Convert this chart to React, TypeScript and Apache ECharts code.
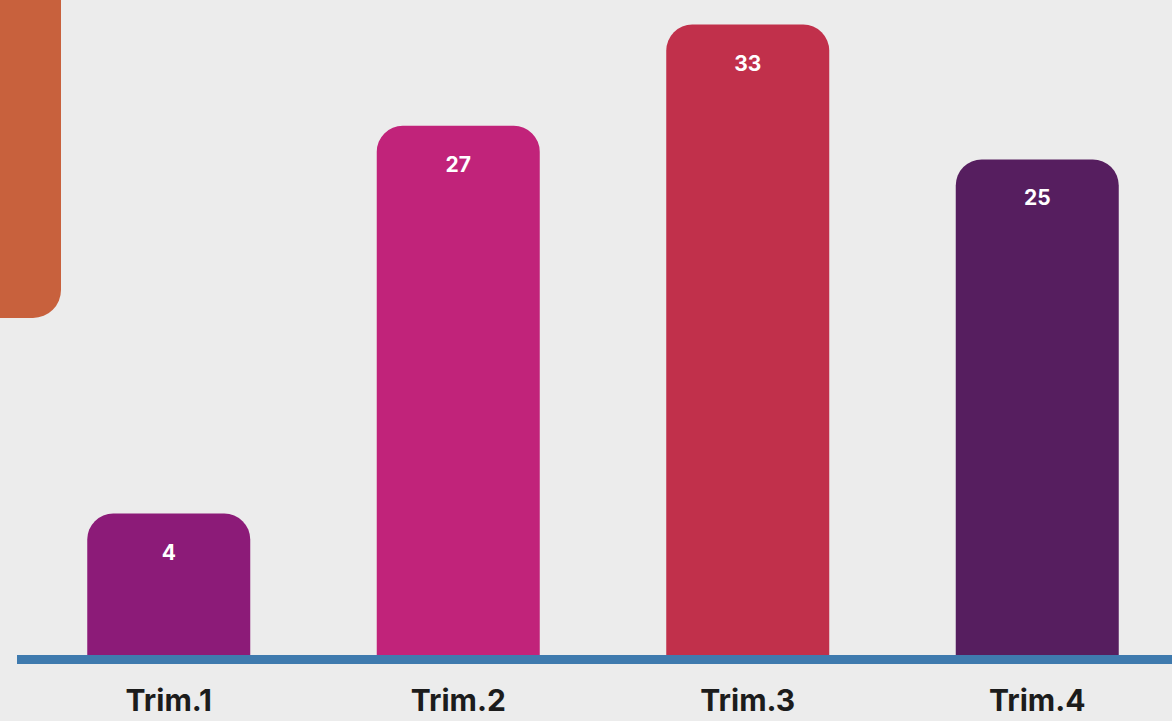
import React, { useEffect, useRef } from "react";
import * as echarts from "echarts";

const categories = ["Trim.1", "Trim.2", "Trim.3", "Trim.4"];
const values = [4, 27, 33, 25];
const barColors = ["#8C1B78", "#C1237A", "#C1304B", "#561E5F"];

const Y_MIN = -4.39;
const Y_MAX = 34.46;

export default function App() {
  const ref = useRef<HTMLDivElement>(null);
  useEffect(() => {
    if (!ref.current) return;
    const chart = echarts.init(ref.current, undefined, { renderer: "svg" });
    chart.setOption({
      animation: false,
      backgroundColor: "#ececec",
      grid: { left: 24, top: 0, bottom: 66, right: 0, containLabel: false },
      xAxis: {
        type: "category",
        data: categories,
        axisLine: { show: false },
        axisTick: { show: false },
        axisLabel: {
          fontSize: 30,
          fontWeight: 700,
          fontFamily: "Inter",
          color: "#1c1c1c",
          margin: 30,
        },
      },
      yAxis: {
        type: "value",
        min: Y_MIN,
        max: Y_MAX,
        show: false,
        splitLine: { show: false },
      },
      series: [
        {
          type: "custom",
          data: values.map((v, i) => [i, v]),
          renderItem: (params: any, api: any) => {
            const i = api.value(0);
            const v = api.value(1);
            const top = api.coord([i, v]);
            const base = api.coord([i, Y_MIN]);
            const w = 163;
            return {
              type: "rect",
              shape: {
                x: top[0] - w / 2,
                y: top[1],
                width: w,
                height: base[1] - top[1],
                r: [26, 26, 0, 0],
              },
              style: { fill: barColors[params.dataIndex] },
              textContent: {
                style: {
                  text: String(v),
                  fill: "#ffffff",
                  fontSize: 21,
                  fontWeight: 700,
                  fontFamily: "Inter",
                },
              },
              textConfig: { position: "insideTop", distance: 28 },
            };
          },
        },
      ],
      graphic: [
        {
          type: "rect",
          left: 0,
          top: 0,
          shape: { x: 0, y: 0, width: 61, height: 318, r: [0, 0, 28, 0] },
          style: { fill: "#C8613D" },
        },
        {
          type: "rect",
          z: 100,
          shape: { x: 17, y: 655, width: 1170, height: 9 },
          style: { fill: "#3F7AAE" },
        },
      ],
    });
    return () => chart.dispose();
  }, []);
  return (
    <div
      style={{
        position: "fixed",
        left: 0,
        top: 0,
        width: 1172,
        height: 721,
        overflow: "hidden",
      }}
    >
      <div ref={ref} style={{ width: 1182, height: 721 }} />
    </div>
  );
}
